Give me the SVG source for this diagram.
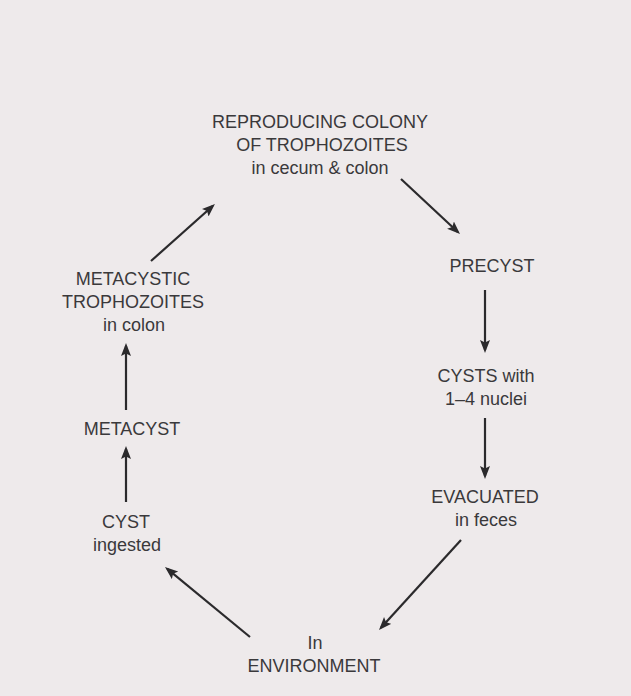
<svg xmlns="http://www.w3.org/2000/svg" width="631" height="696" viewBox="0 0 631 696">
<style>
  .t { font-family: "Liberation Sans", Arial, Helvetica, sans-serif; font-size: 18px; fill: #3a393b; text-anchor: middle; }
  .c { stroke: #2b2a2c; stroke-width: 2.2; fill: none; }
</style>
<defs>
  <marker id="ah" markerUnits="userSpaceOnUse" markerWidth="16" markerHeight="12" refX="10" refY="5" orient="auto">
    <path d="M0,0 L13,5 L0,10 L2.5,5 Z" fill="#2b2a2c"/>
  </marker>
</defs>
<rect width="631" height="696" fill="#eeeaeb"/>

<g id="colony">
  <text class="t" x="320" y="128">REPRODUCING COLONY</text>
  <text class="t" x="322" y="151">OF TROPHOZOITES</text>
  <text class="t" x="320" y="174">in cecum &amp; colon</text>
</g>
<g id="precyst">
  <text class="t" x="492" y="272">PRECYST</text>
</g>
<g id="cysts">
  <text class="t" x="486" y="382">CYSTS with</text>
  <text class="t" x="486" y="405">1–4 nuclei</text>
</g>
<g id="evacuated">
  <text class="t" x="485" y="503">EVACUATED</text>
  <text class="t" x="486" y="526">in feces</text>
</g>
<g id="environment">
  <text class="t" x="315" y="649">In</text>
  <text class="t" x="314" y="672">ENVIRONMENT</text>
</g>
<g id="cyst">
  <text class="t" x="126" y="528">CYST</text>
  <text class="t" x="127" y="551">ingested</text>
</g>
<g id="metacyst">
  <text class="t" x="132" y="435">METACYST</text>
</g>
<g id="metacystic">
  <text class="t" x="133" y="285">METACYSTIC</text>
  <text class="t" x="133" y="308">TROPHOZOITES</text>
  <text class="t" x="134" y="331">in colon</text>
</g>

<g id="connectors" class="c" marker-end="url(#ah)">
  <line x1="401" y1="179" x2="457.8" y2="232"/>
  <line x1="485" y1="290" x2="485" y2="350"/>
  <line x1="485" y1="418" x2="485" y2="476"/>
  <line x1="461" y1="540" x2="381" y2="627.8"/>
  <line x1="250" y1="637" x2="167.3" y2="568.9"/>
  <line x1="126" y1="502" x2="126" y2="449"/>
  <line x1="126" y1="410" x2="126" y2="346"/>
  <line x1="151" y1="261" x2="212.7" y2="206"/>
</g>
</svg>
